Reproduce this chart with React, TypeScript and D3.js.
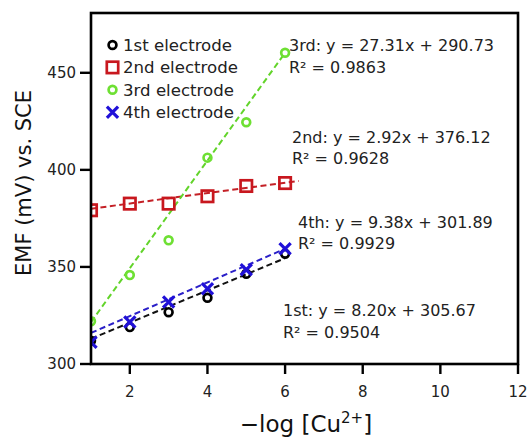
import React from 'react';
import * as d3 from 'd3';

// values
const xValues = [1, 2, 3, 4, 5, 6];
const electrode1 = [312, 319, 326.7, 334.1, 346.5, 356.8];
const electrode2 = [379.2, 382.6, 382.6, 386.4, 391.7, 393.2];
const electrode3 = [322, 345.8, 363.7, 406.3, 424.5, 460.3];
const electrode4 = [311.2, 321.6, 331.9, 338.8, 348.6, 359.4];

const seriesNames = ['1st electrode', '2nd electrode', '3rd electrode', '4th electrode'];

// dashed fit lines as drawn (x from / to, y from / to)
const trendX0 = [1, 1, 1, 1];
const trendX1 = [6, 6.35, 6, 6.05];
const trendY0 = [313, 380, 321.6, 316];
const trendY1 = [354.5, 394.3, 460.3, 359.8];

const fitLabels = [
  '1st: y = 8.20x + 305.67',
  '2nd: y = 2.92x + 376.12',
  '3rd: y = 27.31x + 290.73',
  '4th: y = 9.38x + 301.89',
];
const r2Labels = ['R² = 0.9504', 'R² = 0.9628', 'R² = 0.9863', 'R² = 0.9929'];

const xTicks = [2, 4, 6, 8, 10, 12];
const yTicks = [300, 350, 400, 450];

const colors = ['#000000', '#c8171e', '#6ee033', '#2010d8'];
const lineColors = ['#111111', '#c42026', '#62d42a', '#2a1fc8'];
const labelPos = [
  { x: 283, y: 316 },
  { x: 292, y: 142.5 },
  { x: 289, y: 51 },
  { x: 298, y: 227.5 },
];

const W = 531;
const H = 439;
const margin = { left: 91, right: 13, top: 13, bottom: 75 };
const font = 'DejaVu Sans, sans-serif';

const Marker = ({ kind, cx, cy, color }) => {
  if (kind === 0 || kind === 2) {
    return <circle cx={cx} cy={cy} r={3.9} fill="none" stroke={color} strokeWidth={2.7} />;
  }
  if (kind === 1) {
    return (
      <rect x={cx - 5.7} y={cy - 5.7} width={11.4} height={11.4} fill="none" stroke={color} strokeWidth={2.7} />
    );
  }
  const s = 5.6;
  return (
    <path
      d={`M${cx - s},${cy - s}L${cx + s},${cy + s}M${cx - s},${cy + s}L${cx + s},${cy - s}`}
      stroke={color}
      strokeWidth={3.2}
      fill="none"
    />
  );
};

export default function App() {
  const x = d3.scaleLinear().domain([1, 12]).range([margin.left, W - margin.right]);
  const y = d3.scaleLinear().domain([300, 480.8]).range([H - margin.bottom, margin.top]);
  const series = [electrode1, electrode2, electrode3, electrode4];
  const line = d3
    .line<[number, number]>()
    .x((d) => x(d[0]))
    .y((d) => y(d[1]));
  const x0 = x.range()[0];
  const x1 = x.range()[1];
  const y0 = y.range()[0];
  const y1 = y.range()[1];

  return (
    <svg width={W} height={H} style={{ position: 'absolute', left: 0, top: 0, background: '#fff' }} fontFamily={font}>
      <defs>
        <clipPath id="plot">
          <rect x={x0} y={y1} width={x1 - x0} height={y0 - y1} />
        </clipPath>
      </defs>

      <g clipPath="url(#plot)">
        {series.map((_, i) => (
          <path
            key={'t' + i}
            d={line([
              [trendX0[i], trendY0[i]],
              [trendX1[i], trendY1[i]],
            ])}
            fill="none"
            stroke={lineColors[i]}
            strokeWidth={2}
            strokeDasharray="6,3.5"
          />
        ))}
        {series.map((vals, i) =>
          vals.map((v, j) => (
            <Marker key={i + '-' + j} kind={i} cx={x(xValues[j])} cy={y(v)} color={colors[i]} />
          ))
        )}
      </g>

      {/* frame */}
      <rect x={x0} y={y1} width={x1 - x0} height={y0 - y1} fill="none" stroke="#000" strokeWidth={2.6} />

      {/* y ticks */}
      {yTicks.map((t) => (
        <g key={'y' + t}>
          <line x1={x0 - 11} x2={x0} y1={y(t)} y2={y(t)} stroke="#000" strokeWidth={2.4} />
          <text x={x0 - 15} y={y(t)} dy="0.36em" textAnchor="end" fontSize={15} fill="#222">
            {t}
          </text>
        </g>
      ))}
      {/* x ticks */}
      {xTicks.map((t) => (
        <g key={'x' + t}>
          <line x1={x(t)} x2={x(t)} y1={y0} y2={y0 + 10} stroke="#000" strokeWidth={2.4} />
          <text x={x(t)} y={y0 + 33} textAnchor="middle" fontSize={15} fill="#222">
            {t}
          </text>
        </g>
      ))}

      {/* axis titles */}
      <text x={306} y={432} textAnchor="middle" fontSize={23} fill="#111">
        −log [Cu
        <tspan dy={-9} fontSize={15}>
          2+
        </tspan>
        <tspan dy={9}>]</tspan>
      </text>
      <text
        transform={`translate(31,${183}) rotate(-90)`}
        textAnchor="middle"
        fontSize={21}
        fill="#111"
      >
        EMF (mV) vs. SCE
      </text>

      {/* legend */}
      {seriesNames.map((name, i) => (
        <g key={'l' + i} transform={`translate(0,${i * 22.4})`}>
          <Marker kind={i} cx={112.5} cy={45} color={colors[i]} />
          <text x={123} y={51} fontSize={16.6} fill="#222">
            {name}
          </text>
        </g>
      ))}

      {/* fit annotations */}
      {fitLabels.map((lab, i) => (
        <g key={'f' + i}>
          <text x={labelPos[i].x} y={labelPos[i].y} fontSize={16} fill="#222">
            {lab}
          </text>
          <text x={labelPos[i].x} y={labelPos[i].y + 21.7} fontSize={16} fill="#222">
            {r2Labels[i]}
          </text>
        </g>
      ))}
    </svg>
  );
}
